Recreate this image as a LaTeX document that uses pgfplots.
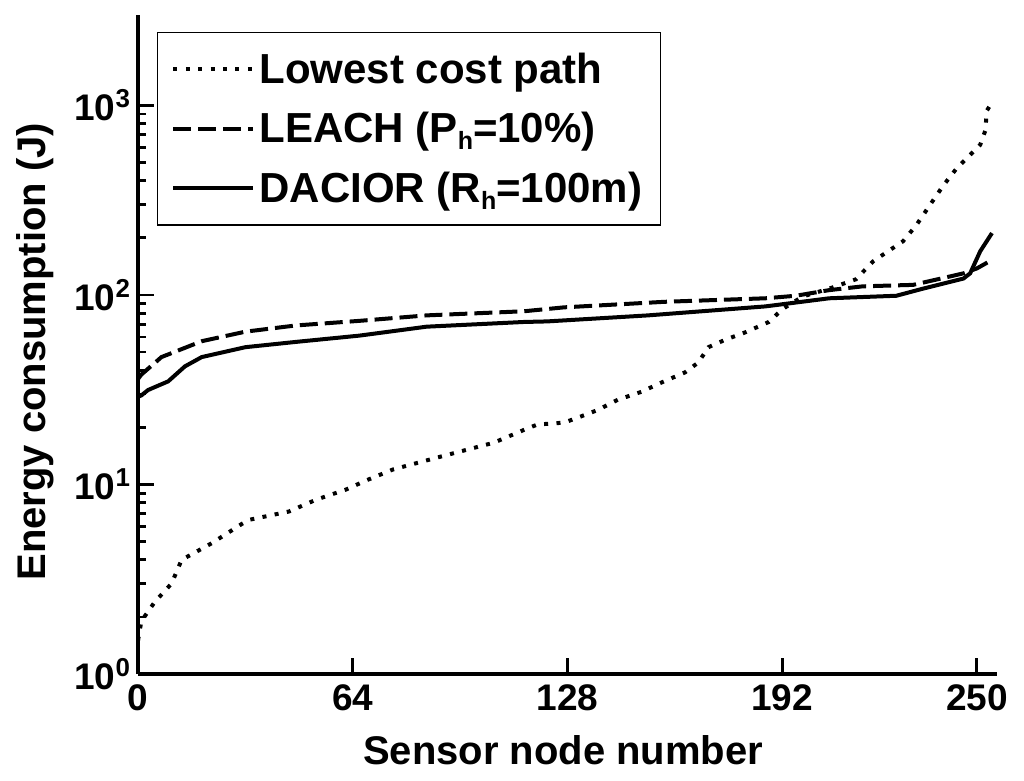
\documentclass[border=0pt]{standalone}
\usepackage{pgfplots}
\pgfplotsset{compat=1.18}
\usepackage{fontspec}
\setmainfont{Liberation Sans}
\newcommand{\sub}[1]{\raisebox{-3.5pt}{\fontsize{12.5}{12.5}\selectfont #1}}
\begin{document}
\begin{tikzpicture}
\begin{axis}[
    name=ax,
    width=429.5pt,
    height=329.5pt,
    scale only axis,
    ymode=log,
    xmin=0, xmax=256,
    ymin=1, ymax=3000,
    axis x line*=bottom,
    axis y line*=left,
    x axis line style={-},
    y axis line style={-},
    axis line style={line width=2.2pt},
    xtick={0,64,128,192,250},
    ytick={1,10,100,1000},
    yticklabels={10\textsuperscript{0},10\textsuperscript{1},10\textsuperscript{2},10\textsuperscript{3}},
    tick align=inside,
    major tick length=8pt,
    minor tick length=4pt,
    every tick/.style={black, line width=1.4pt},
    tick label style={font=\fontsize{18.5}{20}\selectfont\bfseries},
    xticklabel style={yshift=-2pt},
    /pgf/number format/assume math mode=true,
    xlabel={Sensor node number},
    ylabel={Energy consumption (J)},
    label style={font=\fontsize{20}{24}\selectfont\bfseries},
    xlabel style={at={(axis description cs:0.495,-0.115)}, anchor=center},
    ylabel style={at={(axis description cs:-0.12,0.489)}, anchor=center},
    legend style={
        at={(axis description cs:0.022,0.974)}, anchor=north west,
        draw=black, line width=0.6pt, fill=white,
        font=\fontsize{21}{25}\selectfont\bfseries,
        row sep=9pt, inner xsep=7pt, inner ysep=8pt,
        cells={anchor=west},
    },
    legend image code/.code={\draw[#1] (0pt,0pt) -- (40pt,0pt);},
    legend cell align=left,
]
\addplot[black, line width=2pt, dash pattern=on 2pt off 4.2pt] coordinates {
(0,1.5) (1,1.9) (5,2.4) (10,3.0) (13,4.0) (22,4.9) (31,6.2) (33,6.5)
(45,7.2) (53,8.3) (62,9.4) (68,10.5) (76,12) (92,14.3) (106,16.6)
(115,19.4) (119,20.7) (127,21.2) (131,22.5) (137,24.7) (143,28)
(150,30.8) (156,34.5) (163,39) (167,44) (170,53) (175,58) (181,63.5)
(188,72) (192,84) (198,98) (206,108) (214,121) (219,150) (222,163)
(228,192) (232,234) (236,298) (240,378) (244,466) (248,548) (251,620)
(252.5,735) (253,940) (255,1070)
};
\addlegendentry{Lowest cost path}
\addplot[black, line width=2pt, dash pattern=on 9pt off 3.5pt] coordinates {
(0,36) (1,38) (7,47) (19,57) (32,64) (47,69) (66,73) (86,78) (115,82)
(127,86) (157,92) (187,96) (196,99) (206,106) (216,111) (231,113)
(241,124) (246,130) (250,138) (254.5,153)
};
\addlegendentry{LEACH (P\sub{h}=10\%)}
\addplot[black, line width=2pt] coordinates {
(0,29) (1,29.5) (3,31.5) (9,35) (14,42) (19,47) (32,53) (47,56.5)
(66,61) (86,68) (115,72) (122,72.5) (152,78) (187,87) (206,96)
(226,99) (234,108) (246,122) (248,130) (251,170) (254.5,212)
};
\addlegendentry{DACIOR (R\sub{h}=100m)}
\coordinate (bl) at (rel axis cs:0,0);
\coordinate (tr) at (rel axis cs:1,1);
\end{axis}
\path[use as bounding box] ([xshift=-69pt,yshift=-53.5pt]bl) rectangle ([xshift=13.5pt,yshift=7.5pt]tr);
\end{tikzpicture}
\end{document}
